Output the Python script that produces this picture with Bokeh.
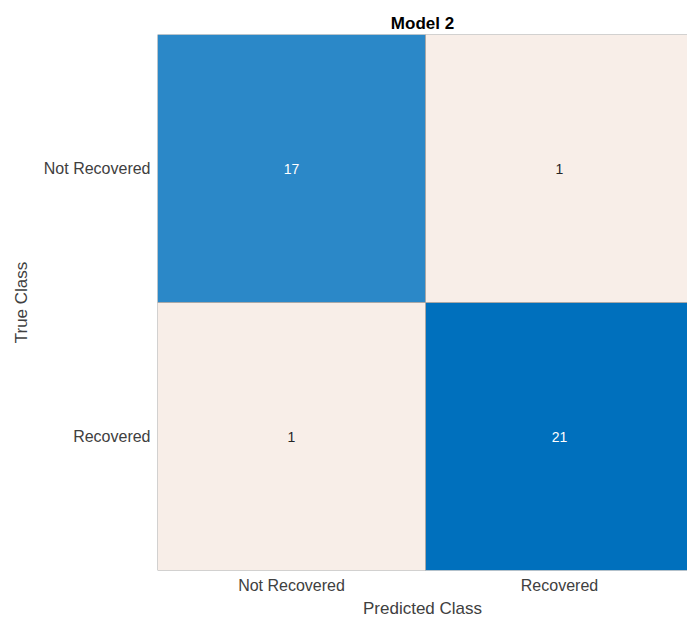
from bokeh.plotting import figure
from bokeh.models import ColumnDataSource, Range1d, FixedTicker
from bokeh.embed import file_html
from bokeh.resources import INLINE

# Confusion matrix for Model 2 (rows: true class, columns: predicted class)
classes = ["Not Recovered", "Recovered"]
true_class = ["Not Recovered", "Not Recovered", "Recovered", "Recovered"]
pred_class = ["Not Recovered", "Recovered", "Not Recovered", "Recovered"]
counts = [17, 1, 1, 21]

# cell shading: diagonal blues, off-diagonal light
cell_colors = ["#2B88C8", "#F8EEE8", "#F8EEE8", "#0070BD"]
text_colors = ["#ffffff", "#262626", "#262626", "#ffffff"]

n = len(classes)
col = [classes.index(c) for c in pred_class]
row = [n - 1 - classes.index(c) for c in true_class]

src = ColumnDataSource(dict(
    left=[c for c in col], right=[c + 1 for c in col],
    bottom=[r for r in row], top=[r + 1 for r in row],
    xc=[c + 0.5 for c in col], yc=[r + 0.5 for r in row],
    label=[str(v) for v in counts],
    fill=cell_colors, tcolor=text_colors,
))

FONT = "Liberation Sans"

p = figure(width=687, height=621, output_backend="svg", toolbar_location=None,
           x_range=Range1d(0, 530 / 268), y_range=Range1d(0, 2),
           min_border_left=157, min_border_right=0, min_border_top=34,
           min_border_bottom=51, title="Model 2")
p.outline_line_color = None
p.background_fill_color = "white"
p.border_fill_color = "white"
p.grid.visible = False

p.quad(left="left", right="right", bottom="bottom", top="top", source=src,
       fill_color="fill", line_color="#a8a8a8", line_width=1)
p.text(x="xc", y="yc", text="label", source=src, text_color="tcolor",
       text_align="center", text_baseline="middle", text_font_size="14px",
       text_font={"value": FONT})

# title
p.title.text_font = FONT
p.title.text_font_size = "17px"
p.title.text_font_style = "bold"
p.title.text_color = "#000000"
p.title.align = "center"
p.title.standoff = 4

# axes
p.xaxis.ticker = FixedTicker(ticks=[i + 0.5 for i in range(n)])
p.xaxis.major_label_overrides = {i + 0.5: c for i, c in enumerate(classes)}
p.yaxis.ticker = FixedTicker(ticks=[i + 0.5 for i in range(n)])
p.yaxis.major_label_overrides = {n - 1 - i + 0.5: c for i, c in enumerate(classes)}
p.xaxis.axis_label = "Predicted Class"
p.yaxis.axis_label = "True Class"

for ax in (p.xaxis[0], p.yaxis[0]):
    ax.axis_line_color = None
    ax.major_tick_line_color = None
    ax.minor_tick_line_color = None
    ax.major_tick_out = 0
    ax.major_tick_in = 0
    ax.minor_tick_out = 0
    ax.major_label_text_font = FONT
    ax.major_label_text_font_size = "16px"
    ax.major_label_text_color = "#404040"
    ax.axis_label_text_font = FONT
    ax.axis_label_text_font_size = "17px"
    ax.axis_label_text_font_style = "normal"
    ax.axis_label_text_color = "#404040"

p.xaxis.major_label_standoff = 6
p.xaxis.axis_label_standoff = 2
p.yaxis.major_label_standoff = 7
p.yaxis.axis_label_standoff = 10
p.yaxis.major_label_orientation = "horizontal"

open("out.html", "w").write(file_html(p, INLINE))
